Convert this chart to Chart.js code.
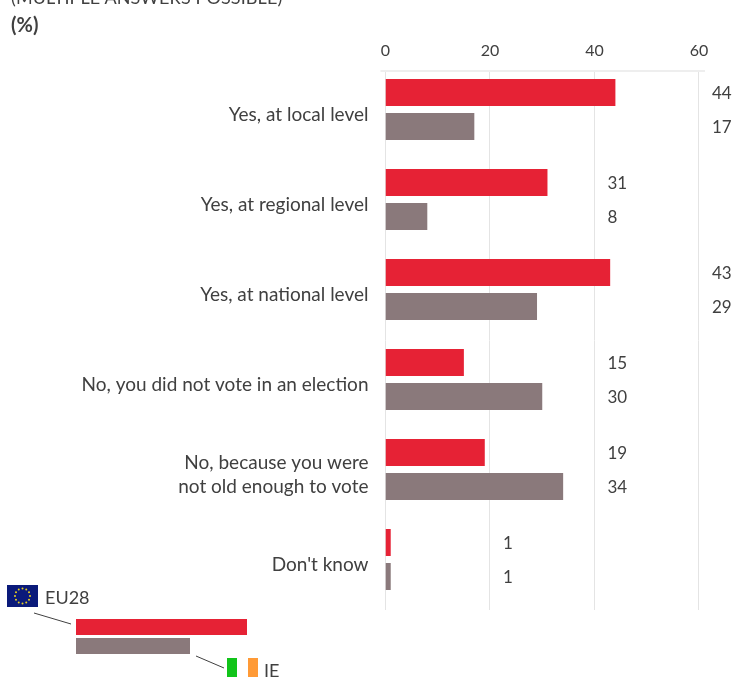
<!DOCTYPE html>
<html>
<head>
<meta charset="utf-8">
<title>Chart</title>
<script src="https://cdn.jsdelivr.net/npm/chart.js@4"></script>
<style>
    body { margin: 0; background: #fff; font-family: Lato, sans-serif; color: #404040; }
    #wrap { position: relative; width: 733px; height: 677px; overflow: hidden; }
    #wrap canvas { position: absolute; left: 0; top: 0; }
    .txt { position: absolute; white-space: nowrap; font-size: 18px; line-height: 22px; }
    .box { position: absolute; }
</style>
</head>
<body>
<div id="wrap">
    <canvas id="grafico" width="733" height="677"></canvas>
    <div class="txt" style="left:11px;top:-14px;letter-spacing:.1px">(MULTIPLE ANSWERS POSSIBLE)</div>
    <div class="txt" style="left:11px;top:13px;font-weight:700;font-size:20px">(%)</div>

    <!-- legenda -->
    <svg class="box" style="left:7px;top:585px" width="31" height="22" id="flag-eu"></svg>
    <div class="txt" style="left:45px;top:586px">EU28</div>
    <svg class="box" style="left:30px;top:610px" width="44" height="18"><line x1="4" y1="3" x2="41" y2="14" stroke="#404040" stroke-width="1"/></svg>
    <div class="box" style="left:76px;top:619px;width:171px;height:16px;background:#e62235"></div>
    <div class="box" style="left:76px;top:638px;width:114px;height:16px;background:#8a797b"></div>
    <svg class="box" style="left:194px;top:654px" width="32" height="16"><line x1="2" y1="2" x2="30" y2="14" stroke="#404040" stroke-width="1"/></svg>
    <div class="box" style="left:227px;top:658px;width:10px;height:20px;background:#11c41a"></div>
    <div class="box" style="left:237px;top:658px;width:11px;height:20px;background:#fff"></div>
    <div class="box" style="left:248px;top:658px;width:10px;height:20px;background:#ff9a36"></div>
    <div class="txt" style="left:264px;top:659px">IE</div>
</div>
<script>
document.addEventListener('DOMContentLoaded', function() {

    // --- DADOS ---
    const categorias = [
        'Yes, at local level',
        'Yes, at regional level',
        'Yes, at national level',
        'No, you did not vote in an election',
        ['No, because you were', 'not old enough to vote'],
        "Don't know"
    ];
    const valoresEU28 = [44, 31, 43, 15, 19, 1];
    const valoresIE = [17, 8, 29, 30, 34, 1];
    const ticksX = [0, 20, 40, 60];

    const VERMELHO = '#e62235';
    const CINZA = '#8a797b';
    const TEXTO = '#404040';
    const FONTE = 'Lato, sans-serif';

    // Bandeira da UE
    const flag = document.getElementById('flag-eu');
    let svg = '<rect width="31" height="22" fill="#0a1a7a"/>';
    for (let i = 0; i < 12; i++) {
        const a = i * Math.PI / 6;
        svg += '<circle cx="' + (15.5 + 7.5 * Math.cos(a)) + '" cy="' + (11 + 7.5 * Math.sin(a)) + '" r="1" fill="#e8d020"/>';
    }
    flag.innerHTML = svg;

    // Grade vertical e linha superior (deslocadas em relação às barras)
    const grade = {
        id: 'grade',
        beforeDatasetsDraw(chart) {
            const ctx = chart.ctx, a = chart.chartArea, x = chart.scales.x;
            const topo = a.top + 6.5, base = a.bottom + 5.5;
            ctx.save();
            ctx.strokeStyle = '#e4e4e4';
            ctx.lineWidth = 1;
            ticksX.forEach(t => {
                const px = Math.round(x.getPixelForValue(t)) - 0.5;
                ctx.beginPath();
                ctx.moveTo(px, topo);
                ctx.lineTo(px, base);
                ctx.stroke();
            });
            ctx.strokeStyle = '#eeeeee';
            ctx.lineWidth = 2;
            ctx.beginPath();
            ctx.moveTo(a.left - 5, topo);
            ctx.lineTo(a.right + 6, topo);
            ctx.stroke();
            ctx.restore();
        }
    };

    // Rótulos: alinhados depois do próximo tick acima do maior valor da categoria
    const rotulos = {
        id: 'rotulos',
        afterDatasetsDraw(chart) {
            const ctx = chart.ctx, x = chart.scales.x;
            ctx.save();
            ctx.font = '17px ' + FONTE;
            ctx.fillStyle = TEXTO;
            ctx.textAlign = 'left';
            ctx.textBaseline = 'middle';
            chart.data.datasets.forEach((ds, d) => {
                const meta = chart.getDatasetMeta(d);
                ds.data.forEach((v, i) => {
                    const maior = Math.max(valoresEU28[i], valoresIE[i]);
                    const tick = ticksX.find(t => t >= maior);
                    ctx.fillText(v, x.getPixelForValue(tick) + 13, meta.data[i].y + 1);
                });
            });
            ctx.restore();
        }
    };

    new Chart(document.getElementById('grafico'), {
        type: 'bar',
        data: {
            labels: categorias,
            datasets: [
                { label: 'EU28', data: valoresEU28, backgroundColor: VERMELHO },
                { label: 'IE', data: valoresIE, backgroundColor: CINZA }
            ]
        },
        options: {
            indexAxis: 'y',
            responsive: false,
            animation: false,
            devicePixelRatio: 1,
            layout: { padding: { left: 0, top: 0, right: 34, bottom: 72.5 } },
            datasets: { bar: { categoryPercentage: 0.7556, barPercentage: 0.794 } },
            plugins: { legend: { display: false }, tooltip: { enabled: false } },
            scales: {
                x: {
                    position: 'top',
                    min: 0,
                    max: 60,
                    afterFit: s => { s.height = 64.5; },
                    afterBuildTicks: s => { s.ticks = ticksX.map(v => ({ value: v })); },
                    grid: { display: false, drawTicks: false },
                    border: { display: false },
                    ticks: { color: TEXTO, font: { family: FONTE, size: 16 }, maxRotation: 0, padding: 4 }
                },
                y: {
                    afterFit: s => { s.width = 385.5; },
                    grid: { display: false },
                    border: { display: false },
                    ticks: {
                        color: TEXTO,
                        font: { family: FONTE, size: 19, lineHeight: 1.26 },
                        padding: 9,
                        labelOffset: 5,
                        autoSkip: false
                    }
                }
            }
        },
        plugins: [grade, rotulos]
    });
});
</script>
</body>
</html>
